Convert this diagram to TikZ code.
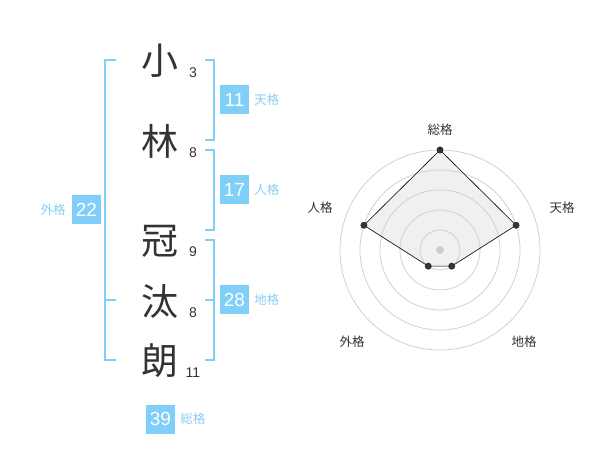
\documentclass[tikz,border=0pt]{standalone}
\usepackage{fontspec}
\setmainfont{Liberation Sans}
\newfontfamily\jp{Noto Sans CJK JP}
\usetikzlibrary{positioning, calc}

\definecolor{sky}{HTML}{80CFF9}
\definecolor{skytext}{HTML}{8ACFF3}
\definecolor{ink}{HTML}{333333}
\definecolor{ringgray}{HTML}{CCCCCC}
\definecolor{area}{HTML}{F0F0F0}

\tikzset{
  kanji/.style={font=\jp\fontsize{37}{37}\selectfont, text=ink, inner sep=0pt},
  strokes/.style={font=\fontsize{14}{14}\selectfont, text=ink, inner sep=0pt},
  score/.style={fill=sky, text=white, font=\fontsize{19}{19}\selectfont,
                minimum size=29pt, inner sep=0pt},
  kaku/.style={font=\jp\fontsize{12.5}{12.5}\selectfont, text=skytext, inner sep=0pt},
  bracket/.style={draw=sky, line width=2pt},
  axislabel/.style={font=\jp\fontsize{12.5}{12.5}\selectfont, text=ink, inner sep=0pt},
  ring/.style={draw=ringgray, line width=0.7pt},
  dot/.style={circle, fill=ink, inner sep=0pt, minimum size=7pt},
}

\begin{document}
\begin{tikzpicture}[x=1pt, y=-1pt]
    \fill[white] (0,0) rectangle (600,470);
    \useasboundingbox (0,0) rectangle (600,470);

    % name
    \node[kanji] (k1) at (160,61) {小};
    \node[kanji] (k2) at (160,141) {林};
    \node[kanji] (k3) at (160,241) {冠};
    \node[kanji] (k4) at (160,301) {汰};
    \node[kanji] (k5) at (160,361) {朗};
    \node[strokes] (s1) at (193,73) {3};
    \node[strokes] (s2) at (193,153) {8};
    \node[strokes] (s3) at (193,252) {9};
    \node[strokes] (s4) at (193,313) {8};
    \node[strokes] (s5) at (193,373) {11};

    % brackets
    \draw[bracket] (116,60) -| (105,360) -- (116,360);
    \draw[bracket] (105,300) -- (116,300);
    \draw[bracket] (205,60) -| (214,140) -- (205,140);
    \draw[bracket] (205,150) -| (214,230) -- (205,230);
    \draw[bracket] (205,240) -| (214,360) -- (205,360);
    \draw[bracket] (214,300) -- (205,300);

    % scores
    \node[score] (ten) at (234.5,100) {11};
    \node[kaku, right=5pt of ten] (tenl) {天格};
    \node[score] (jin) at (234.5,190) {17};
    \node[kaku, right=5pt of jin] (jinl) {人格};
    \node[score] (chi) at (234.5,300) {28};
    \node[kaku, right=5pt of chi] (chil) {地格};
    \node[score] (gai) at (86.5,210) {22};
    \node[kaku, left=6pt of gai] (gail) {外格};
    \node[score] (sou) at (160.5,419) {39};
    \node[kaku, right=5pt of sou] (soul) {総格};

    % radar
    \coordinate (hub) at (440,250);
    \coordinate (psou) at ($(hub)+(-90:100)$);
    \coordinate (pten) at ($(hub)+(-18:80)$);
    \coordinate (pchi) at ($(hub)+(54:20)$);
    \coordinate (pgai) at ($(hub)+(126:20)$);
    \coordinate (pjin) at ($(hub)+(198:80)$);
    \fill[area] (psou) -- (pten) -- (pchi) -- (pgai) -- (pjin) -- cycle;
    \foreach \r in {20,40,...,100}
        \draw[ring] (hub) circle (\r);
    \fill[ringgray] (hub) circle (4);
    \draw[black, line width=0.6pt]
        (psou) -- (pten) -- (pchi) -- (pgai) -- (pjin) -- cycle;
    \foreach \p in {psou,pten,pchi,pgai,pjin}
        \node[dot] at (\p) {};
    \node[axislabel] (asou) at (440,130) {総格};
    \node[axislabel] (aten) at (562,208) {天格};
    \node[axislabel] (achi) at (524,342) {地格};
    \node[axislabel] (agai) at (352,342) {外格};
    \node[axislabel] (ajin) at (320,208) {人格};
\end{tikzpicture}
\end{document}
